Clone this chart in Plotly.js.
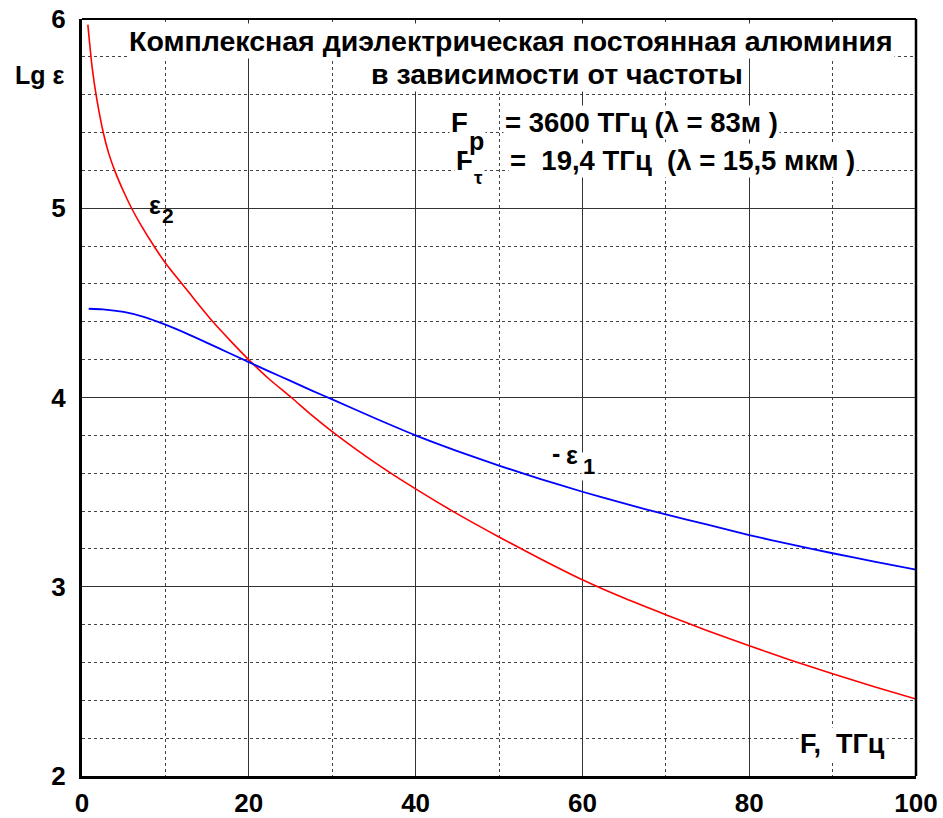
<!DOCTYPE html>
<html>
<head>
<meta charset="utf-8">
<script src="https://cdn.plot.ly/plotly-3.0.1.min.js"></script>
<style>html,body{margin:0;padding:0;background:#fff;}#chart{width:943px;height:818px;}</style>
</head>
<body>
<div id="chart"></div>
<script>
// Frequency, THz, and lg of -eps1 (blue curve)
const freqEps1 = [0.8, 2.5, 5, 7.5, 10, 12.5, 15, 17.5, 20, 22.5, 25, 27.5, 30, 35, 40, 45, 50, 55, 60, 65, 70, 75, 80, 85, 90, 95, 100];
const lgNegEps1 = [4.469, 4.466, 4.452, 4.425, 4.385, 4.339, 4.289, 4.238, 4.187, 4.137, 4.088, 4.038, 3.99, 3.893, 3.800, 3.717, 3.640, 3.569, 3.502, 3.440, 3.382, 3.328, 3.273, 3.224, 3.177, 3.133, 3.090];
// Frequency, THz, and lg of eps2 (red curve)
const freqEps2 = [0.7, 1.2, 1.76, 2.55, 3.2, 3.96, 5, 5.95, 7, 8.7, 10, 11.35, 13, 15.7, 18, 20.1, 22.5, 25.1, 27.5, 30, 35, 40, 45, 50, 55, 60, 65, 70, 75, 80, 85, 90, 95, 100];
const lgEps2 = [5.97, 5.75, 5.58, 5.40, 5.29, 5.195, 5.087, 5.00, 4.916, 4.795, 4.711, 4.635, 4.545, 4.40, 4.29, 4.195, 4.095, 4.00, 3.908, 3.82, 3.66, 3.517, 3.385, 3.263, 3.147, 3.037, 2.94, 2.852, 2.768, 2.688, 2.612, 2.540, 2.472, 2.407];
const xTicks = [0, 20, 40, 60, 80, 100];
const yTicks = [2, 3, 4, 5, 6];

const FONT = 'Liberation Sans, Arial, sans-serif';
const bold = (s, c) => ({family: FONT, size: s, color: c || '#000', weight: 700});

const traces = [
  {x: freqEps2, y: lgEps2, mode: 'lines', line: {color: '#ff0000', width: 1.6, shape: 'spline', smoothing: 0.6}, hoverinfo: 'skip'},
  {x: freqEps1, y: lgNegEps1, mode: 'lines', line: {color: '#0000ff', width: 1.8, shape: 'spline', smoothing: 0.6}, hoverinfo: 'skip'}
];

function ann(text, x, y, size, opts) {
  return Object.assign({text: text, xref: 'x', yref: 'y', x: x, y: y, showarrow: false,
    font: bold(size), bgcolor: '#fff', borderpad: 1, xanchor: 'center', yanchor: 'middle'}, opts || {});
}
// pixel -> data helpers for annotation placement
const px = v => (v - 82) / 8.34;
const py = v => 2 + (776 - v) / 189.25;
const clear = {bgcolor: 'rgba(0,0,0,0)'};

const layout = {
  width: 943, height: 818,
  margin: {l: 82, r: 27, t: 19, b: 42},
  paper_bgcolor: '#fff', plot_bgcolor: '#fff',
  showlegend: false,
  xaxis: {range: [0, 100], tickvals: xTicks, ticktext: xTicks.map(String),
    showline: true, linecolor: '#000', linewidth: 3, ticks: '', ticklabelstandoff: 2,
    tickfont: bold(26), showgrid: true, gridcolor: '#333', gridwidth: 1, zeroline: false,
    minor: {dtick: 10, tick0: 0, showgrid: true, griddash: 'dot', gridcolor: '#444', gridwidth: 1}},
  yaxis: {range: [2, 6], tickvals: yTicks, ticktext: yTicks.map(String),
    showline: true, linecolor: '#000', linewidth: 3, ticks: '', ticklabelstandoff: 8,
    tickfont: bold(26), showgrid: true, gridcolor: '#333', gridwidth: 1, zeroline: false,
    minor: {dtick: 0.2, tick0: 2, showgrid: true, griddash: 'dot', gridcolor: '#444', gridwidth: 1}},
  shapes: [
    {type: 'line', xref: 'paper', yref: 'paper', x0: 0, x1: 1, y0: 1, y1: 1, line: {color: '#000', width: 2}},
    {type: 'line', xref: 'paper', yref: 'paper', x0: 1, x1: 1, y0: 0, y1: 1, line: {color: '#000', width: 2.5}}
  ],
  annotations: [
    ann('Комплексная диэлектрическая постоянная алюминия', px(511), py(41), 28.5),
    ann('в зависимости от частоты', px(557), py(74), 28.5),
    ann('F', px(459), py(122), 27.5),
    ann('= 3600 ТГц (λ = 83м )', px(503), py(122), 27.5, {xanchor: 'left'}),
    ann('F', px(464), py(160), 27.5),
    ann('=  19,4 ТГц  (λ = 15,5 мкм )', px(508), py(160), 27.5, {xanchor: 'left'}),
    ann('p', px(476), py(141), 25),
    ann('τ', px(478), py(177), 19),
    ann('ε', px(155), py(205), 25, clear),
    ann('2', px(168), py(215), 21, clear),
    ann('-', px(556), py(453), 25),
    ann('ε', px(572), py(455), 25),
    ann('1', px(589), py(466), 22),
    ann('F,  ТГц', px(842), py(744), 27),
    {text: 'Lg ε', xref: 'paper', yref: 'paper', x: (39 - 82) / 834, y: (776 - 75) / 757, showarrow: false,
      font: bold(25), xanchor: 'center', yanchor: 'middle'}
  ]
};

Plotly.newPlot('chart', traces, layout, {staticPlot: true, displayModeBar: false});
</script>
</body>
</html>
